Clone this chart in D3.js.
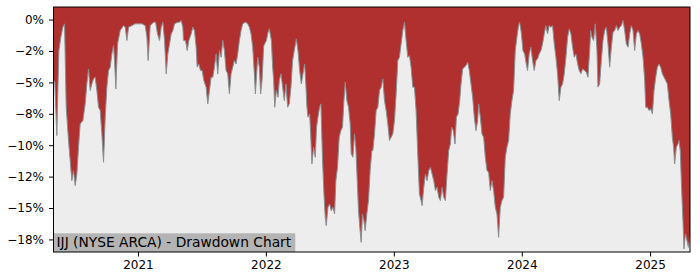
<!DOCTYPE html>
<html>
<head>
	<title>IJJ drawdown</title>
	<script src="https://d3js.org/d3.v7.min.js"></script>
	<style>
		body { margin: 0; background: #fff; }
		svg text { font-family: "DejaVu Sans", sans-serif; fill: #000; }
	</style>
</head>
<body>
	<svg id="chart" width="700" height="280"></svg>
<script type="text/javascript">
	// dates as decimal years, drawdown in percent
	var years = [
		2020.342, 2020.352, 2020.368, 2020.376, 2020.384, 2020.399, 2020.415, 2020.428, 2020.441, 2020.459,
		2020.472, 2020.485, 2020.498, 2020.511, 2020.524, 2020.537, 2020.550, 2020.571, 2020.589, 2020.602,
		2020.615, 2020.628, 2020.641, 2020.654, 2020.667, 2020.680, 2020.693, 2020.706, 2020.719, 2020.732,
		2020.745, 2020.758, 2020.771, 2020.784, 2020.797, 2020.810, 2020.818, 2020.828, 2020.841, 2020.862,
		2020.888, 2020.901, 2020.914, 2020.927, 2020.953, 2020.979, 2021.005, 2021.031, 2021.057, 2021.070,
		2021.080, 2021.096, 2021.122, 2021.138, 2021.153, 2021.169, 2021.182, 2021.195, 2021.208, 2021.221,
		2021.234, 2021.247, 2021.260, 2021.273, 2021.286, 2021.312, 2021.325, 2021.338, 2021.351, 2021.356,
		2021.372, 2021.385, 2021.398, 2021.416, 2021.429, 2021.442, 2021.455, 2021.463, 2021.476, 2021.489,
		2021.502, 2021.515, 2021.533, 2021.546, 2021.559, 2021.572, 2021.585, 2021.598, 2021.611, 2021.624,
		2021.637, 2021.650, 2021.663, 2021.676, 2021.689, 2021.702, 2021.715, 2021.728, 2021.741, 2021.754,
		2021.767, 2021.780, 2021.793, 2021.806, 2021.819, 2021.840, 2021.858, 2021.871, 2021.884, 2021.897,
		2021.910, 2021.918, 2021.928, 2021.936, 2021.949, 2021.959, 2021.970, 2021.983,
		2022.004, 2022.017, 2022.027, 2022.043, 2022.053, 2022.061, 2022.069, 2022.082, 2022.095, 2022.105,
		2022.118, 2022.131, 2022.144, 2022.157, 2022.170, 2022.183, 2022.196, 2022.209, 2022.222, 2022.238,
		2022.251, 2022.264, 2022.277, 2022.290, 2022.303, 2022.311, 2022.321, 2022.329, 2022.342, 2022.350,
		2022.360, 2022.373, 2022.386, 2022.396, 2022.407, 2022.420, 2022.430, 2022.443, 2022.454, 2022.464,
		2022.472, 2022.485, 2022.498, 2022.511, 2022.524, 2022.537, 2022.547, 2022.560, 2022.573, 2022.586,
		2022.599, 2022.610, 2022.620, 2022.633, 2022.646, 2022.659, 2022.667, 2022.680, 2022.693, 2022.703,
		2022.714, 2022.724, 2022.734, 2022.745, 2022.755, 2022.766, 2022.776, 2022.789, 2022.802, 2022.815,
		2022.828, 2022.836, 2022.849, 2022.862, 2022.875, 2022.888, 2022.901, 2022.914, 2022.927, 2022.940,
		2022.953, 2022.966, 2022.979, 2022.992, 2023.005, 2023.018, 2023.031, 2023.044, 2023.057, 2023.070,
		2023.083, 2023.096, 2023.109, 2023.122, 2023.135, 2023.148, 2023.161, 2023.174, 2023.187, 2023.200,
		2023.213, 2023.221, 2023.234, 2023.247, 2023.260, 2023.273, 2023.286, 2023.299, 2023.312, 2023.325,
		2023.338, 2023.351, 2023.364, 2023.377, 2023.390, 2023.403, 2023.416, 2023.429, 2023.442, 2023.452,
		2023.465, 2023.478, 2023.489, 2023.502, 2023.515, 2023.525, 2023.538, 2023.551, 2023.564, 2023.577,
		2023.590, 2023.603, 2023.616, 2023.629, 2023.642, 2023.655, 2023.663, 2023.676, 2023.689, 2023.702,
		2023.715, 2023.728, 2023.741, 2023.754, 2023.767, 2023.780, 2023.793, 2023.806, 2023.819, 2023.832,
		2023.845, 2023.858, 2023.871, 2023.884, 2023.897, 2023.910, 2023.923, 2023.936, 2023.949, 2023.962,
		2023.975, 2023.983, 2023.996, 2024.009, 2024.022, 2024.035, 2024.045, 2024.058, 2024.071, 2024.084,
		2024.097, 2024.110, 2024.123, 2024.136, 2024.149, 2024.162, 2024.175, 2024.188, 2024.201, 2024.214,
		2024.227, 2024.240, 2024.253, 2024.266, 2024.279, 2024.292, 2024.305, 2024.318, 2024.331, 2024.344,
		2024.357, 2024.370, 2024.383, 2024.396, 2024.409, 2024.422, 2024.435, 2024.448, 2024.461, 2024.474,
		2024.490, 2024.503, 2024.516, 2024.529, 2024.537, 2024.547, 2024.560, 2024.573, 2024.586, 2024.594,
		2024.607, 2024.620, 2024.633, 2024.646, 2024.659, 2024.672, 2024.685, 2024.698, 2024.711, 2024.724,
		2024.737, 2024.750, 2024.763, 2024.776, 2024.789, 2024.802, 2024.815, 2024.828, 2024.841, 2024.854,
		2024.867, 2024.880, 2024.893, 2024.906, 2024.919, 2024.932, 2024.945, 2024.958, 2024.966, 2024.979,
		2024.992, 2025.005, 2025.018, 2025.031, 2025.044, 2025.057, 2025.070, 2025.083, 2025.096, 2025.109,
		2025.122, 2025.135, 2025.148, 2025.161, 2025.174, 2025.184, 2025.192, 2025.205, 2025.218, 2025.226,
		2025.236, 2025.247, 2025.257, 2025.265, 2025.276, 2025.289, 2025.299, 2025.312
	];
	var drawdown = [
		-4.85, -4.99, -9.23, -5.65, -2.47, -1.41, -0.61, -0.34, -6.98, -9.63,
		-11.23, -12.82, -12.02, -13.22, -12.29, -10.16, -8.30, -8.04, -6.71, -5.12,
		-3.93, -5.65, -5.12, -4.72, -4.59, -5.65, -6.98, -7.24, -9.10, -11.36,
		-7.77, -5.38, -4.06, -3.79, -2.73, -2.07, -3.26, -5.52, -1.94, -0.88,
		-0.48, -0.61, -1.67, -0.61, -0.48, -0.34, -0.34, -0.34, -0.48, -1.41,
		-3.26, -0.48, -0.21, -0.21, -1.14, -1.67, -0.61, -0.21, -1.67, -4.32,
		-2.73, -1.94, -1.14, -0.88, -0.34, -0.21, -0.21, -0.08, -0.61, -1.67,
		-1.67, -2.47, -1.67, -1.14, -0.61, -0.88, -2.20, -3.79, -3.53, -4.06,
		-4.06, -4.85, -5.38, -6.71, -5.65, -4.59, -4.59, -3.79, -2.73, -4.32,
		-2.47, -3.00, -1.67, -2.47, -4.06, -4.32, -5.92, -4.32, -3.79, -3.26,
		-3.53, -2.73, -1.67, -0.88, -0.34, -0.21, -0.34, -0.61, -1.14, -2.20,
		-4.32, -5.92, -4.32, -3.00, -3.79, -5.92, -4.85, -2.10,
		-1.67, -1.01, -0.74, -1.67, -3.79, -4.85, -6.98, -5.65, -6.18, -4.85,
		-4.32, -5.38, -6.45, -5.12, -6.98, -6.71, -5.38, -3.26, -2.47, -1.54,
		-2.47, -4.06, -5.12, -4.32, -3.53, -4.85, -6.98, -7.77, -7.51, -9.10,
		-11.49, -10.16, -10.96, -8.57, -7.77, -6.98, -6.71, -11.23, -13.88, -15.74,
		-16.40, -14.94, -14.68, -15.21, -14.94, -15.47, -12.82, -11.76, -9.37, -8.84,
		-8.57, -6.45, -4.99, -6.45, -6.98, -8.30, -10.69, -10.96, -9.10, -10.16,
		-12.82, -15.21, -16.53, -17.73, -15.47, -16.00, -16.80, -15.47, -14.41, -12.02,
		-10.43, -10.43, -9.10, -7.24, -6.98, -5.65, -5.38, -4.72, -6.45, -7.24,
		-8.30, -9.63, -9.37, -9.10, -8.04, -5.92, -3.26, -3.00, -1.94, -0.88,
		-0.21, -1.67, -3.00, -2.87, -3.79, -5.38, -5.38, -7.24, -10.69, -13.88,
		-14.41, -14.81, -13.35, -12.29, -12.82, -12.02, -11.76, -12.29, -12.82, -13.61,
		-13.35, -14.14, -14.41, -13.35, -14.14, -14.41, -12.29, -10.43, -9.90, -8.57,
		-8.84, -9.90, -7.77, -7.51, -6.45, -5.12, -3.93, -3.79, -3.66, -3.40,
		-4.06, -5.12, -6.18, -7.77, -8.84, -8.04, -6.71, -7.77, -9.10, -9.37,
		-10.96, -12.02, -12.15, -13.61, -12.82, -13.61, -14.94, -15.47, -17.33, -14.94,
		-14.41, -14.14, -10.96, -10.16, -9.63, -7.51, -6.45, -5.65, -2.47, -1.41,
		-0.48, -0.21, -1.01, -2.47, -2.73, -3.53, -4.06, -2.73, -2.20, -3.26,
		-4.06, -3.26, -3.13, -2.73, -2.47, -1.94, -1.14, -0.48, -1.14, -0.48,
		-0.61, -0.48, -1.94, -3.00, -4.32, -6.45, -5.38, -5.12, -4.32, -3.00,
		-1.41, -0.74, -1.14, -2.20, -3.00, -2.73, -3.53, -4.06, -4.32, -3.93,
		-4.06, -4.19, -4.59, -2.47, -0.88, -1.41, -1.67, -0.34, -2.47, -5.38,
		-5.12, -3.26, -1.67, -0.88, -0.61, -1.94, -3.79, -2.20, -1.01, -0.88,
		-0.48, -0.88, -0.61, -0.48, -0.08, -0.88, -1.94, -2.20, -1.14, -0.48,
		-0.88, -2.47, -1.14, -0.88, -1.14, -1.94, -3.00, -4.85, -6.98, -6.98,
		-7.24, -7.11, -7.51, -5.65, -4.59, -3.79, -3.53, -3.79, -4.32, -4.59,
		-4.85, -5.12, -6.45, -7.51, -9.37, -10.16, -11.49, -10.16, -9.90, -9.63,
		-10.43, -13.61, -16.00, -18.26, -17.06, -17.60, -18.13, -17.33
	];
	var yTicks = [0, -2.5, -5, -7.5, -10, -12.5, -15, -17.5];
	var yTickLabels = ['0%', '\u22122%', '\u22125%', '\u22128%', '\u221210%', '\u221212%', '\u221215%', '\u221218%'];
	var chartLabel = 'IJJ (NYSE ARCA) - Drawdown Chart';

	const LEFT = 53.5, RIGHT = 690, TOP = 7, BOTTOM = 252;

	function yearToDate(y) {
		var yr = Math.floor(y);
		var a = Date.UTC(yr, 0, 1), b = Date.UTC(yr + 1, 0, 1);
		return new Date(a + (y - yr) * (b - a));
	}

	var data = years.map(function(y, i) {
		return { date: yearToDate(y), dd: drawdown[i] };
	});

	var x = d3.scaleUtc()
		.domain(d3.extent(data, function(d) { return d.date; }))
		.range([LEFT, RIGHT]);
	var y = d3.scaleLinear()
		.domain([-18.5, 1.0])
		.range([BOTTOM, TOP]);

	var svg = d3.select('#chart');

	svg.append('defs').append('clipPath')
		.attr('id', 'plotclip')
	  .append('rect')
		.attr('x', LEFT).attr('y', TOP)
		.attr('width', RIGHT - LEFT).attr('height', BOTTOM - TOP);

	var plot = svg.append('g').attr('clip-path', 'url(#plotclip)');

	// red above the curve, grey below it
	plot.append('rect')
		.attr('x', LEFT).attr('y', TOP)
		.attr('width', RIGHT - LEFT).attr('height', BOTTOM - TOP)
		.attr('fill', '#b03030');

	plot.append('path')
		.datum(data)
		.attr('d', d3.area()
			.x(function(d) { return x(d.date); })
			.y0(BOTTOM)
			.y1(function(d) { return y(d.dd); }))
		.attr('fill', '#ededed');

	plot.append('path')
		.datum(data)
		.attr('d', d3.line()
			.x(function(d) { return x(d.date); })
			.y(function(d) { return y(d.dd); }))
		.attr('fill', 'none')
		.attr('stroke', '#8a8f92')
		.attr('stroke-width', 1);

	// label box in lower left corner
	var label = plot.append('g');
	var labelText = label.append('text')
		.attr('x', LEFT + 3)
		.attr('y', BOTTOM - 4.7)
		.style('font-size', '13.8px')
		.text(chartLabel);
	var bb = labelText.node().getBBox();
	label.insert('rect', 'text')
		.attr('x', LEFT)
		.attr('y', BOTTOM - 18.7)
		.attr('width', bb.width + 6.5)
		.attr('height', 19)
		.attr('fill', '#b4b4b4');

	// axes
	var xAxis = d3.axisBottom(x)
		.ticks(d3.utcYear.every(1))
		.tickFormat(d3.utcFormat('%Y'))
		.tickSize(4.5)
		.tickPadding(4);
	var yAxis = d3.axisLeft(y)
		.tickValues(yTicks)
		.tickFormat(function(d, i) { return yTickLabels[i]; })
		.tickSize(4.5)
		.tickPadding(5);

	var gx = svg.append('g')
		.attr('transform', 'translate(0,' + BOTTOM + ')')
		.call(xAxis);
	var gy = svg.append('g')
		.attr('transform', 'translate(' + LEFT + ',0)')
		.call(yAxis);

	[gx, gy].forEach(function(g) {
		g.select('.domain').remove();
		g.selectAll('text')
			.style('font-family', '"DejaVu Sans", sans-serif')
			.style('font-size', '12px')
			.attr('fill', '#000');
		g.selectAll('line').attr('stroke', '#000');
	});

	svg.append('rect')
		.attr('x', LEFT).attr('y', TOP)
		.attr('width', RIGHT - LEFT).attr('height', BOTTOM - TOP)
		.attr('fill', 'none')
		.attr('stroke', '#000')
		.attr('stroke-width', 1);
</script>
</body>
</html>
